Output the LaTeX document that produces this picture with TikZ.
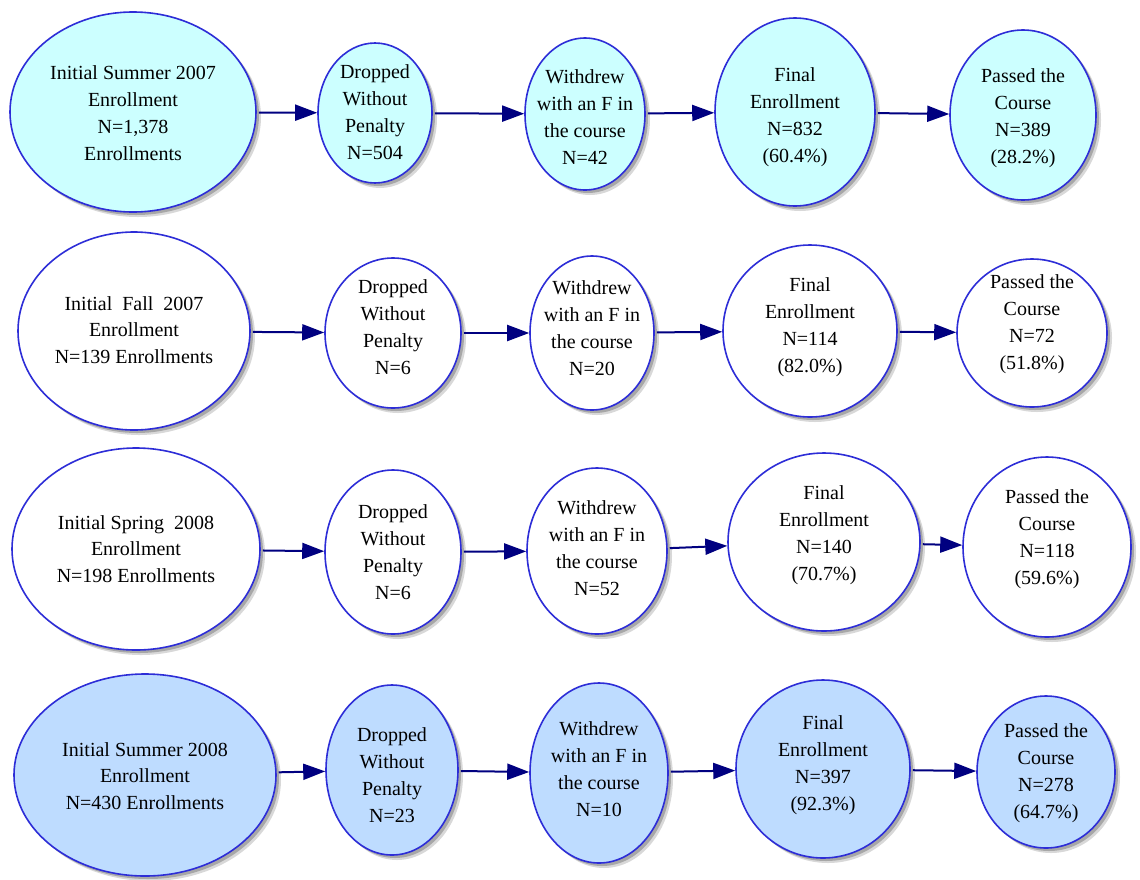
\documentclass[tikz,border=0pt]{standalone}
\usepackage{fontspec}
\setmainfont{Liberation Serif}
\usetikzlibrary{shapes.geometric,arrows.meta,shadows}
\definecolor{rimblue}{RGB}{45,45,215}
\definecolor{navyarr}{RGB}{0,0,128}
\definecolor{cyanfill}{RGB}{204,255,255}
\definecolor{bluefill}{RGB}{190,220,255}
\tikzset{
  bub/.style={ellipse, draw=rimblue, line width=1.6pt, inner sep=0pt,
    drop shadow={shadow xshift=5pt, shadow yshift=-5pt, opacity=0.25, fill=black!60},
    drop shadow={shadow xshift=3pt, shadow yshift=-3pt, opacity=0.35, fill=black!70}},
  rowA/.style={bub, fill=cyanfill},
  rowB/.style={bub, fill=white},
  rowD/.style={bub, fill=bluefill},
  txt/.style={align=center, inner sep=0pt, font=\fontsize{20}{26.8}\selectfont},
  arr/.style={draw=navyarr, line width=2pt, shorten <=2pt,
    -{Triangle[length=22pt,width=16pt]}}
}
% #1 name, #2 style, #3 x, #4 y, #5 rx, #6 ry, #7 text y, #8 text
\newcommand{\bubble}[8]{%
  \node[#2, minimum width=#5*2pt, minimum height=#6*2pt] (#1) at (#3,#4) {};
  \node[txt] (#1t) at (#3,#7) {#8};}
\begin{document}
\begin{tikzpicture}[x=1pt,y=-1pt]
\useasboundingbox[fill=white] (0,0) rectangle (1140,879);
% Row 1
\bubble{e1}{rowA}{133}{112}{123}{100}{113}{Initial Summer 2007\\Enrollment\\N=1,378\\Enrollments}
\bubble{d1}{rowA}{375}{113}{57}{70}{112}{Dropped\\Without\\Penalty\\N=504}
\bubble{w1}{rowA}{585}{114}{60}{76}{117}{Withdrew\\with an F in\\the course\\N=42}
\bubble{f1}{rowA}{795}{112}{80}{94}{117}{Final\\Enrollment\\N=832\\(60.4\%)}
\bubble{p1}{rowA}{1023}{115}{73}{85}{118}{Passed the\\Course\\N=389\\(28.2\%)}
% Row 2
\bubble{e2}{rowB}{134}{331}{116}{99}{330}{Initial\ \ Fall\ \ 2007\\Enrollment\\N=139 Enrollments}
\bubble{d2}{rowB}{393}{333}{68}{75}{327}{Dropped\\Without\\Penalty\\N=6}
\bubble{w2}{rowB}{592}{333}{62}{77}{328}{Withdrew\\with an F in\\the course\\N=20}
\bubble{f2}{rowB}{810}{331}{87}{86}{327}{Final\\Enrollment\\N=114\\(82.0\%)}
\bubble{p2}{rowB}{1032}{333}{75}{74}{324}{Passed the\\Course\\N=72\\(51.8\%)}
% Row 3
\bubble{e3}{rowB}{136}{549}{124}{101}{549}{Initial Spring\ \ 2008\\Enrollment\\N=198 Enrollments}
\bubble{d3}{rowB}{393}{552}{68}{82}{552}{Dropped\\Without\\Penalty\\N=6}
\bubble{w3}{rowB}{597}{551}{70}{83}{548}{Withdrew\\with an F in\\the course\\N=52}
\bubble{f3}{rowB}{824}{542}{96}{89}{535}{Final\\Enrollment\\N=140\\(70.7\%)}
\bubble{p3}{rowB}{1047}{547}{84}{90}{539}{Passed the\\Course\\N=118\\(59.6\%)}
% Row 4
\bubble{e4}{rowD}{145}{775}{131}{101}{776}{Initial Summer 2008\\Enrollment\\N=430 Enrollments}
\bubble{d4}{rowD}{392}{770}{66}{85}{775}{Dropped\\Without\\Penalty\\N=23}
\bubble{w4}{rowD}{599}{773}{69}{90}{769}{Withdrew\\with an F in\\the course\\N=10}
\bubble{f4}{rowD}{823}{769}{87}{89}{765}{Final\\Enrollment\\N=397\\(92.3\%)}
\bubble{p4}{rowD}{1046}{772}{69}{76}{773}{Passed the\\Course\\N=278\\(64.7\%)}
% Arrows
\foreach \r in {1,2,3,4}{
  \draw[arr] (e\r) -- (d\r);
  \draw[arr] (d\r) -- (w\r);
  \draw[arr] (w\r) -- (f\r);
  \draw[arr] (f\r) -- (p\r);
}
\end{tikzpicture}
\end{document}
